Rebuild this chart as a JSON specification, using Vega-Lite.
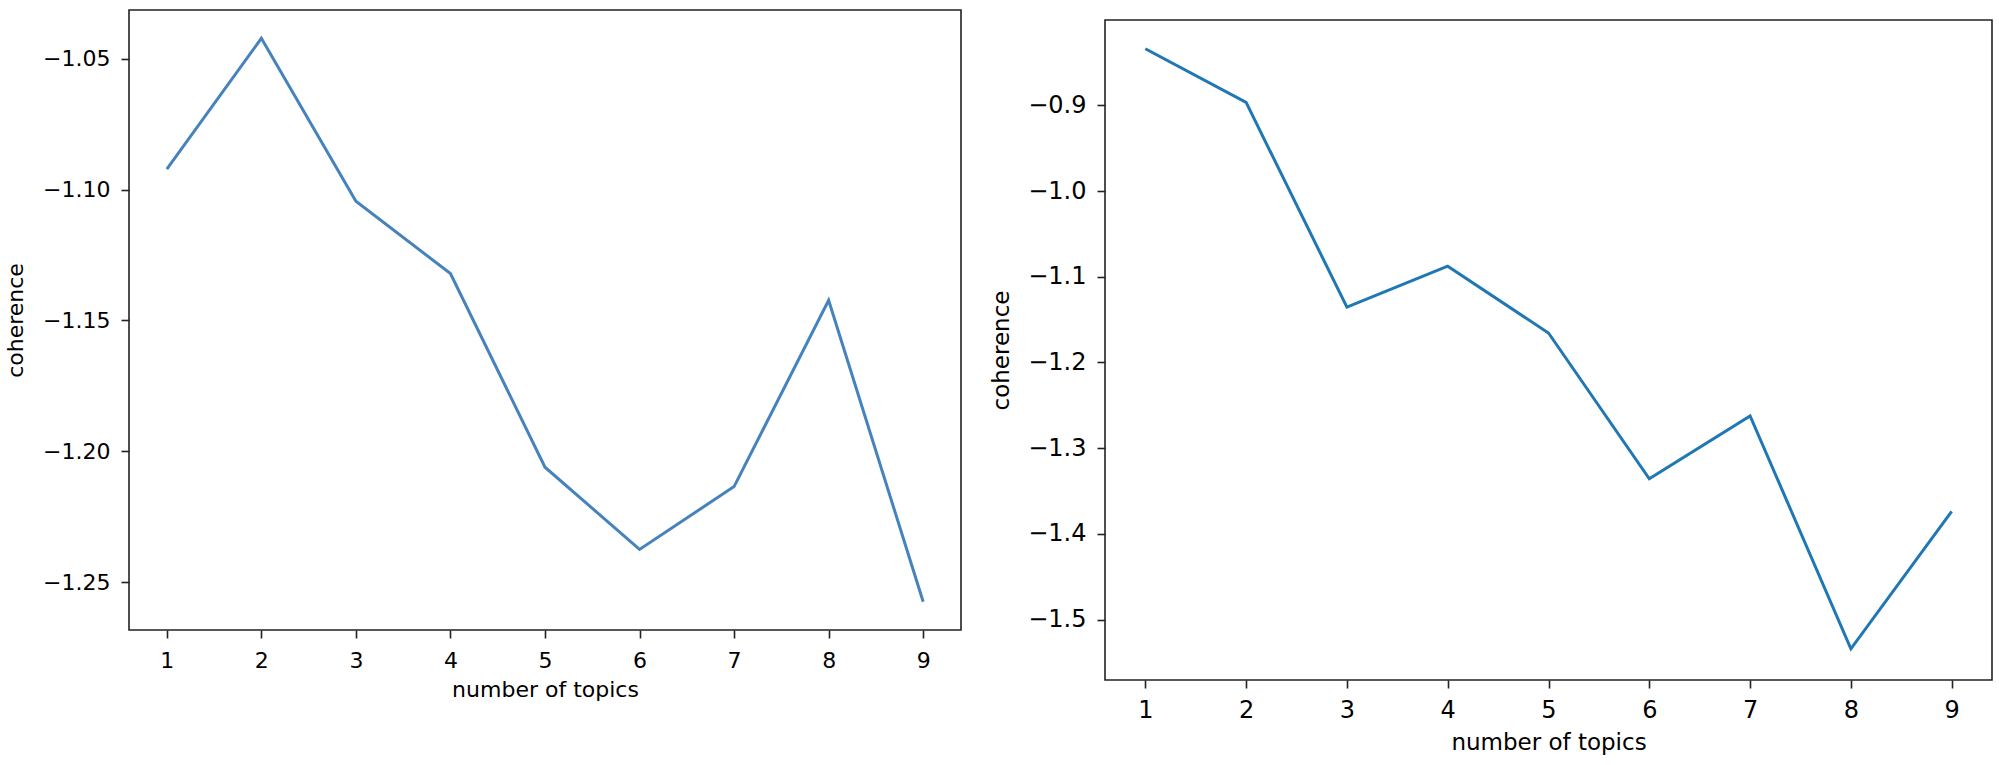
{
  "$schema": "https://vega.github.io/schema/vega-lite/v6.json",
  "background": "white",
  "padding": {"left": 3, "top": 9, "right": 2, "bottom": 5},
  "spacing": 27,
  "datasets": {
    "left": [
      {"topics": 1, "coherence": -1.0922},
      {"topics": 2, "coherence": -1.0422},
      {"topics": 3, "coherence": -1.1045},
      {"topics": 4, "coherence": -1.1321},
      {"topics": 5, "coherence": -1.2061},
      {"topics": 6, "coherence": -1.2375},
      {"topics": 7, "coherence": -1.2135},
      {"topics": 8, "coherence": -1.1423},
      {"topics": 9, "coherence": -1.2575}
    ],
    "right": [
      {"topics": 1, "coherence": -0.834},
      {"topics": 2, "coherence": -0.8966},
      {"topics": 3, "coherence": -1.1355},
      {"topics": 4, "coherence": -1.0877},
      {"topics": 5, "coherence": -1.1656},
      {"topics": 6, "coherence": -1.3357},
      {"topics": 7, "coherence": -1.2623},
      {"topics": 8, "coherence": -1.5341},
      {"topics": 9, "coherence": -1.3737}
    ],
    "none": []
  },
  "config": {
    "font": "DejaVu Sans",
    "view": {"stroke": "#222222", "strokeWidth": 1.6},
    "axis": {
      "domain": false,
      "grid": false,
      "tickColor": "#222222",
      "tickWidth": 1.6,
      "tickSize": 8,
      "labelFont": "DejaVu Sans",
      "labelColor": "black",
      "titleFont": "DejaVu Sans",
      "titleFontWeight": "normal",
      "titleColor": "black"
    }
  },
  "hconcat": [
    {
      "width": 832,
      "height": 620,
      "data": {"name": "left"},
      "mark": {"type": "line", "color": "#4683bd", "strokeWidth": 3},
      "encoding": {
        "x": {
          "field": "topics", "type": "quantitative",
          "scale": {"domain": [0.6, 9.4], "nice": false, "zero": false},
          "axis": {"values": [1,2,3,4,5,6,7,8,9], "format": "d", "title": "number of topics", "labelFontSize": 22, "titleFontSize": 22, "labelPadding": 12, "titlePadding": 8}
        },
        "y": {
          "field": "coherence", "type": "quantitative",
          "scale": {"domain": [-1.2683, -1.0314], "nice": false, "zero": false},
          "axis": {"values": [-1.25, -1.2, -1.15, -1.1, -1.05], "format": ".2f", "title": "coherence", "labelFontSize": 22, "titleFontSize": 22, "labelPadding": 11, "titlePadding": 15}
        }
      }
    },
    {
      "spacing": 0,
      "vconcat": [
        {
          "width": 887,
          "height": 9,
          "view": {"stroke": null},
          "data": {"name": "none"},
          "mark": {"type": "rule"},
          "encoding": {}
        },
        {
          "width": 887,
          "height": 660,
          "data": {"name": "right"},
          "mark": {"type": "line", "color": "#1f77b4", "strokeWidth": 3},
          "encoding": {
            "x": {
              "field": "topics", "type": "quantitative",
              "scale": {"domain": [0.6, 9.4], "nice": false, "zero": false},
              "axis": {"values": [1,2,3,4,5,6,7,8,9], "format": "d", "title": "number of topics", "labelFontSize": 24, "titleFontSize": 23, "labelPadding": 10, "titlePadding": 9}
            },
            "y": {
              "field": "coherence", "type": "quantitative",
              "scale": {"domain": [-1.5705, -0.8004], "nice": false, "zero": false},
              "axis": {"values": [-1.5, -1.4, -1.3, -1.2, -1.1, -1.0, -0.9], "format": ".1f", "title": "coherence", "labelFontSize": 24, "titleFontSize": 23, "labelPadding": 11, "titlePadding": 14}
            }
          }
        }
      ]
    }
  ]
}
